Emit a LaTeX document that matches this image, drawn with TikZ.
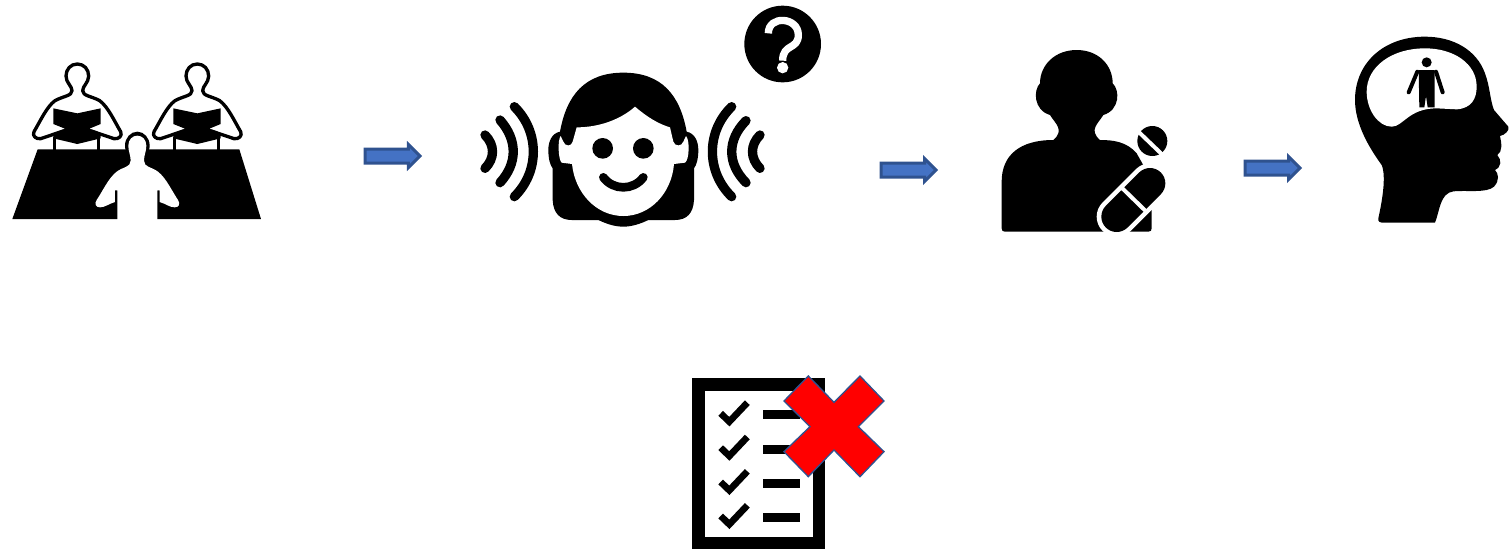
\documentclass[tikz,border=0pt]{standalone}
\usepackage{tikz}
\usetikzlibrary{shapes.arrows}
\definecolor{arrfill}{HTML}{4472C4}
\definecolor{arrline}{HTML}{2F528F}
\newcommand{\zw}{0.006667cm}

\begin{document}
\begin{tikzpicture}[
  x=0.02cm, y=-0.02cm,
  flowarr/.style={single arrow, draw=arrline, fill=arrfill, line width=0.06cm,
                  minimum height=1.1cm, inner xsep=0pt, inner ysep=0.11cm,
                  single arrow head extend=0.09cm, single arrow head indent=0pt},
  outline/.style={draw=black, fill=white, line width=10*\zw, line join=round},
  wave/.style={draw=black, line width=28*\zw, line cap=round},
  tick/.style={draw=black, line width=20*\zw, line join=miter},
  zoomed/.style={scale=1/3}
]
\useasboundingbox (0,0) rectangle (1509,549);

% readers at the table
\begin{scope}[shift={(0,50)}, zoomed]
  \foreach \dx in {0,360} {
    \draw[outline, shift={(\dx,0)}] (232,42) .. controls (212,42) and (198,58) .. (198,78)
      .. controls (198,98) and (216,108) .. (216,122)
      .. controls (216,138) and (190,138) .. (165,152)
      .. controls (140,170) and (120,215) .. (102,245)
      .. controls (96,258) and (108,268) .. (122,266) -- (190,243)
      -- (274,243) -- (342,266)
      .. controls (356,268) and (368,258) .. (362,245)
      .. controls (344,215) and (324,170) .. (299,152)
      .. controls (274,138) and (248,138) .. (248,122)
      .. controls (248,108) and (266,98) .. (266,78)
      .. controls (266,58) and (252,42) .. (232,42) -- cycle;
    \fill[black, shift={(\dx,0)}] (160,175) -- (232,190) -- (302,175) -- (302,222) -- (268,236)
      -- (302,250) -- (302,265) -- (232,282) -- (160,265) -- (160,250) -- (195,236) -- (160,222) -- cycle;
    \draw[black, line width=9*\zw, shift={(\dx,0)}] (165,262) -- (165,300) (296,262) -- (296,300);
  }
  \fill[black] (37,507) -- (113,298) -- (718,298) -- (783,507) -- cycle;
  \fill[black] (412,287) ellipse (37 and 42);
  \fill[white] (352,510) -- (352,421) -- (345,421) -- (345,456)
    .. controls (325,462) and (315,472) .. (300,472)
    .. controls (288,472) and (282,462) .. (290,450)
    .. controls (310,420) and (325,385) .. (350,365)
    .. controls (370,350) and (392,352) .. (392,332)
    .. controls (392,315) and (385,305) .. (385,287)
    .. controls (385,268) and (398,257) .. (412,257)
    .. controls (426,257) and (439,268) .. (439,287)
    .. controls (439,305) and (432,315) .. (432,332)
    .. controls (432,352) and (454,350) .. (474,365)
    .. controls (499,385) and (514,420) .. (534,450)
    .. controls (542,462) and (536,472) .. (524,472)
    .. controls (509,472) and (499,462) .. (479,456)
    -- (479,421) -- (472,421) -- (472,510) -- cycle;
\end{scope}

% listener with sound waves
\begin{scope}[shift={(470,0)}, zoomed]
  \fill[black] (460,218) .. controls (345,218) and (290,285) .. (270,395)
    .. controls (245,400) and (235,425) .. (235,450)
    .. controls (235,475) and (240,495) .. (248,505)
    -- (248,600) .. controls (250,640) and (270,660) .. (305,660)
    -- (385,660) .. controls (410,672) and (435,680) .. (460,680)
    .. controls (485,680) and (510,672) .. (535,660)
    -- (615,660) .. controls (650,660) and (670,640) .. (672,600)
    -- (672,505) .. controls (680,495) and (685,475) .. (685,450)
    .. controls (685,425) and (675,400) .. (650,395)
    .. controls (630,285) and (575,218) .. (460,218) -- cycle;
  \fill[white] (320,382) .. controls (385,382) and (450,360) .. (495,320)
    .. controls (530,350) and (565,372) .. (600,382)
    -- (610,425) .. controls (615,440) and (635,440) .. (640,425) -- (648,408)
    .. controls (660,420) and (658,480) .. (645,488)
    -- (612,492) .. controls (605,580) and (540,648) .. (460,648)
    .. controls (380,648) and (315,580) .. (306,492)
    -- (275,488) .. controls (265,480) and (262,420) .. (272,408)
    -- (280,425) .. controls (285,440) and (305,440) .. (308,425) -- cycle;
  \fill[black] (398,445) circle[radius=31] (520,445) circle[radius=31];
  \draw[black, line width=26*\zw, line cap=round] (400,532) .. controls (430,572) and (490,572) .. (520,532);
  \draw[wave] (45,405) .. controls (75,435) and (75,475) .. (45,505);
  \draw[wave] (90,360) .. controls (143,420) and (143,490) .. (90,548);
  \draw[wave] (133,320) .. controls (209,395) and (209,515) .. (133,590);
  \draw[wave] (870,405) .. controls (840,435) and (840,475) .. (870,505);
  \draw[wave] (828,362) .. controls (771,420) and (771,490) .. (828,548);
  \draw[wave] (785,320) .. controls (708,395) and (708,515) .. (785,590);
  % question badge
  \fill[black] (938,132) circle[radius=115];
  \draw[white, line width=22*\zw] (895,100) .. controls (895,45) and (985,50) .. (985,105)
    .. controls (985,150) and (938,130) .. (938,182);
  \fill[white] (938,203) circle[radius=17];
\end{scope}

% person with capsule
\begin{scope}[shift={(990,40)}, zoomed]
  \fill[black] (260,30) .. controls (195,30) and (150,75) .. (150,130)
    .. controls (130,150) and (130,210) .. (180,225)
    .. controls (195,250) and (225,270) .. (190,300)
    .. controls (90,300) and (35,345) .. (35,425) -- (35,565)
    .. controls (35,572) and (38,575) .. (45,575) -- (475,575)
    .. controls (482,575) and (485,572) .. (485,565) -- (485,420) -- (440,340)
    .. controls (410,305) and (370,300) .. (330,300)
    .. controls (295,270) and (325,250) .. (340,225)
    .. controls (390,210) and (390,150) .. (368,130)
    .. controls (368,75) and (325,30) .. (260,30) -- cycle;
  \draw[white, line width=120*\zw, line cap=round] (380,530) -- (480,430);
  \draw[black, line width=92*\zw, line cap=round] (380,530) -- (480,430);
  \draw[white, line width=12*\zw] (392,440) -- (470,516);
  \fill[black] (487,303) circle[radius=45];
  \draw[white, line width=12*\zw] (440,270) -- (516,343);
\end{scope}

% head with small figure
\begin{scope}[shift={(1340,30)}, zoomed]
  \fill[black] (255,20) .. controls (130,20) and (45,100) .. (45,210)
    .. controls (45,280) and (85,350) .. (125,405)
    .. controls (140,440) and (125,520) .. (115,565)
    .. controls (113,575) and (120,578) .. (130,578) -- (285,578)
    .. controls (300,540) and (300,490) .. (340,484)
    .. controls (380,480) and (440,490) .. (462,470)
    .. controls (480,450) and (475,430) .. (465,420)
    .. controls (485,410) and (485,390) .. (472,375)
    .. controls (488,365) and (485,340) .. (480,318)
    .. controls (495,315) and (510,300) .. (505,290)
    -- (462,240) .. controls (450,210) and (450,170) .. (435,130)
    .. controls (410,60) and (340,20) .. (255,20) -- cycle;
  \fill[white] (255,55) .. controls (155,55) and (80,110) .. (80,185)
    .. controls (80,240) and (115,290) .. (155,290)
    .. controls (190,290) and (205,235) .. (290,235)
    -- (350,238) .. controls (395,235) and (410,205) .. (410,170)
    .. controls (410,100) and (340,55) .. (255,55) -- cycle;
  \fill[black] (260,97) circle[radius=15];
  \fill[black] (236,120) -- (284,120) -- (284,232) -- (263,232) -- (258,198) -- (253,232) -- (238,232) -- cycle;
  \draw[black, line width=12*\zw, line cap=round, line join=round] (232,125) -- (206,187);
  \draw[black, line width=12*\zw, line cap=round, line join=round] (288,125) -- (308,187);
\end{scope}

% rejected checklist
\begin{scope}[shift={(680,370)}, zoomed]
  \fill[black] (37,25) rectangle (436,537);
  \fill[white] (75,63) rectangle (398,500);
  \foreach \dy/\by in {0/120,103/225,206/327,308/429} {
    \draw[tick, shift={(0,\dy)}] (122,130) -- (148,155) -- (202,98);
    \fill[black] (250,\by) rectangle (360,\by+26);
  }
  \draw[draw=arrline, fill=red, line width=4*\zw] (385,18) -- (462,97) -- (540,18) -- (612,93)
    -- (535,170) -- (612,245) -- (540,320) -- (462,240) -- (385,320) -- (312,245)
    -- (390,170) -- (312,93) -- cycle;
\end{scope}

\node[flowarr] (arrA) at (389,156) {};
\node[flowarr] (arrB) at (905,170) {};
\node[flowarr] (arrC) at (1269,168) {};
\end{tikzpicture}
\end{document}
